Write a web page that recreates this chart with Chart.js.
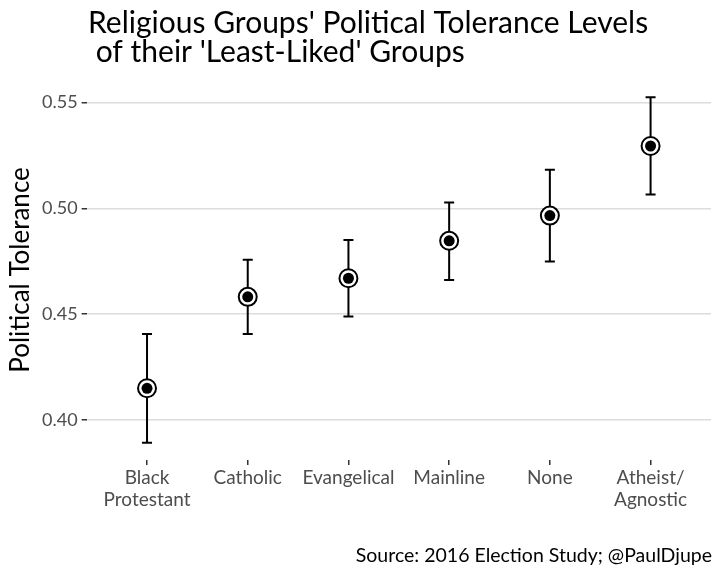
<!DOCTYPE html>
<html>
<head>
<meta charset="utf-8">
<script src="https://cdn.jsdelivr.net/npm/chart.js@4"></script>
<style>
  body { margin: 0; background: #fff; }
  #wrap { width: 722px; height: 578px; }
</style>
</head>
<body>
<div id="wrap"><canvas id="chart" width="722" height="578"></canvas></div>
<script>
// values
const groups = [["Black", "Protestant"], "Catholic", "Evangelical", "Mainline", "None", ["Atheist/", "Agnostic"]];
const tolerance = [0.415, 0.4582, 0.4670, 0.4847, 0.4966, 0.5295];
const lowerCI = [0.3893, 0.4407, 0.4489, 0.4662, 0.4749, 0.5066];
const upperCI = [0.4407, 0.4757, 0.4851, 0.5028, 0.5183, 0.5525];
const yTicks = [0.40, 0.45, 0.50, 0.55];

const titleLines = ["Religious Groups' Political Tolerance Levels", " of their 'Least-Liked' Groups"];
const caption = "Source: 2016 Election Study; @PaulDjupe";

const FONT = "Lato, 'DejaVu Sans', sans-serif";

const points = tolerance.map(function(v, i) { return {x: i + 1, y: v}; });

// error bars, drawn before the points so the white ring covers them
const errorBars = {
  id: 'errorBars',
  beforeDatasetsDraw(chart) {
    const ctx = chart.ctx;
    const xs = chart.scales.x;
    const ys = chart.scales.y;
    ctx.save();
    ctx.strokeStyle = '#000';
    ctx.lineWidth = 2;
    for (let i = 0; i < tolerance.length; i++) {
      const px = xs.getPixelForValue(i + 1);
      const lo = ys.getPixelForValue(lowerCI[i]);
      const hi = ys.getPixelForValue(upperCI[i]);
      ctx.beginPath();
      ctx.moveTo(px, lo);
      ctx.lineTo(px, hi);
      ctx.moveTo(px - 5, lo);
      ctx.lineTo(px + 5, lo);
      ctx.moveTo(px - 5, hi);
      ctx.lineTo(px + 5, hi);
      ctx.stroke();
    }
    ctx.restore();
  }
};

const textBits = {
  id: 'textBits',
  afterDraw(chart) {
    const ctx = chart.ctx;
    ctx.save();
    ctx.fillStyle = '#000';
    ctx.font = "30px " + FONT;
    ctx.textAlign = 'left';
    ctx.textBaseline = 'alphabetic';
    ctx.fillText(titleLines[0], 88, 33);
    ctx.fillText(titleLines[1], 88, 62);
    ctx.font = "19.5px " + FONT;
    ctx.textAlign = 'right';
    ctx.fillText(caption, 712, 562);
    ctx.restore();
  }
};

const myChart = new Chart(document.getElementById('chart'), {
  type: 'scatter',
  data: {
    datasets: [{
      // inner dot (dataset 0 is painted on top)
      data: points,
      pointRadius: 5.5,
      pointHoverRadius: 5.5,
      pointBackgroundColor: '#000',
      pointBorderColor: '#000',
      pointBorderWidth: 0
    }, {
      // white ring
      data: points,
      pointRadius: 9,
      pointHoverRadius: 9,
      pointBackgroundColor: '#fff',
      pointBorderColor: '#000',
      pointBorderWidth: 2
    }]
  },
  options: {
    responsive: false,
    animation: false,
    events: [],
    layout: { padding: { top: 80, right: 11, left: 0, bottom: 0 } },
    plugins: {
      legend: { display: false },
      tooltip: { enabled: false },
      title: { display: false }
    },
    scales: {
      x: {
        type: 'linear',
        min: 0.4,
        max: 6.6,
        afterBuildTicks(scale) {
          scale.ticks = groups.map(function(g, i) { return {value: i + 1}; });
        },
        afterFit(scale) { scale.height = 118; },
        border: { display: false },
        grid: { drawOnChartArea: false, drawTicks: true, tickLength: 5, tickColor: '#333', lineWidth: 1.5 },
        ticks: {
          autoSkip: false,
          maxRotation: 0,
          padding: 2,
          color: '#4d4d4d',
          font: { family: FONT, size: 19, lineHeight: 1.14 },
          callback: function(value) { return groups[value - 1]; }
        }
      },
      y: {
        min: 0.3811,
        max: 0.5607,
        afterBuildTicks(scale) {
          scale.ticks = yTicks.map(function(v) { return {value: v}; });
        },
        afterFit(scale) { scale.width = 86.6; },
        border: { display: false },
        grid: { color: '#dcdcdc', lineWidth: 1.5, tickLength: 5, tickColor: '#333' },
        title: {
          display: true,
          text: 'Political Tolerance',
          color: '#000',
          font: { family: FONT, size: 26 },
          padding: { top: 5, bottom: 0 }
        },
        ticks: {
          padding: 4,
          color: '#4d4d4d',
          font: { family: FONT, size: 18 },
          callback: function(value) { return value.toFixed(2); }
        }
      }
    }
  },
  plugins: [errorBars, textBits]
});
</script>
</body>
</html>
